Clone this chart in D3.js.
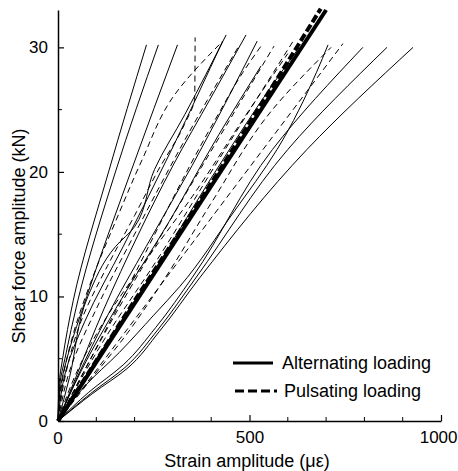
<!doctype html>
<html>
  <head>
    <meta charset="utf-8" />
    <title>Shear force vs strain amplitude</title>
    <script src="https://cdn.jsdelivr.net/npm/d3@7/dist/d3.min.js"></script>
    <style>
      body{margin:0;padding:0;background:#fff;}
      text{font-family:"Liberation Sans",Arial,sans-serif;fill:#000;}
    </style>
  </head>
  <body>
<script>

  // tick values
  var xTicksMajor = [0, 500, 1000];
  var xTicksMinor = [100, 200, 300, 400, 600, 700, 800, 900];
  var yTicksMajor = [0, 10, 20, 30];
  var yTicksMinor = [5, 15, 25];

  // curves: [strain (µε), shear force (kN)]
  var thickAlternating = [[0,0],[700,33]];
  var thickPulsating   = [[0,0],[180,8.7],[400,19.1],[686,33.1]];

  var alternatingCurves = [
    [[0,0],[3,3],[12,5],[40,9.7],[132,20],[231,30.2]],
    [[0,0],[5,3],[18,5],[52,9.7],[150,20],[262,30.2]],
    [[0,0],[8,3],[25,5.2],[75,10],[190,20],[312,30.2]],
    [[0,0],[30,3.5],[78,10],[150,14],[200,15.6],[252,20.2],[331,24.6],[439,31]],
    [[0,0],[20,4],[70,8],[170,14],[300,22],[430,30.5]],
    [[0,0],[40,3],[120,9],[210,15],[300,20.5],[400,26],[491,31]],
    [[0,0],[50,3.5],[130,8.5],[230,14],[350,20.5],[520,30.5]],
    [[0,0],[60,4],[160,9.5],[290,16],[420,23],[530,28.5]],
    [[0,0],[70,2.8],[160,5.5],[250,8.5],[318,10.8],[457,16.7],[572,21.8],[675,28],[705,30.2]],
    [[0,0],[100,5],[250,12],[400,19.5],[560,27],[630,30]],
    [[0,0],[80,2.3],[170,4.5],[255,7.5],[350,11.5],[560,21.8],[796,30]],
    [[0,0],[85,2.2],[175,4.3],[260,7.3],[360,11.5],[600,21.8],[859,30]],
    [[0,0],[90,2.2],[180,4.2],[265,7.2],[370,11.5],[650,21.8],[927,30]]
  ];

  var pulsatingCurves = [
    [[0,0],[15,3],[60,8],[130,12.5],[200,16.5],[261,20.1],[330,23.8],[357,26],[358,30.8]],
    [[0,0],[170,10],[405,23.9],[483,28],[530,30.1]],
    [[0,0],[130,7.5],[300,16.5],[564,30.1]],
    [[0,0],[744,30.3]],
    [[0,0],[90,3.5],[180,7],[280,11.5],[400,17.5],[560,25],[713,30]],
    [[0,0],[10,3],[40,7],[90,11.5],[150,16],[220,21],[300,26],[430,30.5]],
    [[0,0],[30,4],[100,9],[200,15],[330,22.5],[470,30]],
    [[0,0],[120,6.5],[260,13],[420,21],[614,30.5]],
    [[0,0],[50,4],[120,8],[220,12.5],[350,18],[500,25],[600,29.5]]
  ];

  var legendLabels = ["Alternating loading", "Pulsating loading"];

  var width = 458, height = 471;
  var svg = d3.select("body").append("svg").attr("width", width).attr("height", height);

  var x = d3.scaleLinear().domain([0, 1000]).range([58, 441]);
  var y = d3.scaleLinear().domain([0, 33]).range([421, 10]);

  var line = d3.line().curve(d3.curveMonotoneY)
    .x(function(d){ return x(d[0]); }).y(function(d){ return y(d[1]); });

  // thin curves
  svg.append("g").selectAll("path").data(alternatingCurves).enter().append("path")
    .attr("d", line).attr("fill", "none").attr("stroke", "#000").attr("stroke-width", 1);

  svg.append("g").selectAll("path").data(pulsatingCurves).enter().append("path")
    .attr("d", line).attr("fill", "none").attr("stroke", "#000").attr("stroke-width", 1)
    .attr("stroke-dasharray", "6,4");

  // thick curves
  svg.append("path").attr("d", line(thickPulsating)).attr("fill", "none")
    .attr("stroke", "#000").attr("stroke-width", 4).attr("stroke-dasharray", "8,3");
  svg.append("path").attr("d", line(thickAlternating)).attr("fill", "none")
    .attr("stroke", "#000").attr("stroke-width", 4);

  // axes
  var xAxis = d3.axisBottom(x).tickValues(xTicksMajor).tickFormat(d3.format("d"))
    .tickSizeInner(-6).tickSizeOuter(0).tickPadding(10);
  var yAxis = d3.axisLeft(y).tickValues(yTicksMajor).tickFormat(d3.format("d"))
    .tickSizeInner(-6).tickSizeOuter(0).tickPadding(10);

  var gx = svg.append("g").attr("transform", "translate(0," + y(0) + ")").call(xAxis);
  var gy = svg.append("g").attr("transform", "translate(" + x(0) + ",0)").call(yAxis);

  gx.selectAll(".tick").filter(function(d){ return d == 0; }).select("text").remove();
  // the 1000 label is pushed against the right edge as in the original
  gx.selectAll(".tick").filter(function(d){ return d == 1000; }).select("text")
    .attr("text-anchor", "end").attr("x", 16);

  gx.selectAll(".minor").data(xTicksMinor).enter().append("line").attr("class", "minor")
    .attr("x1", function(d){ return x(d); }).attr("x2", function(d){ return x(d); })
    .attr("y1", 0).attr("y2", -4).attr("stroke", "#000");
  gy.selectAll(".minor").data(yTicksMinor).enter().append("line").attr("class", "minor")
    .attr("y1", function(d){ return y(d); }).attr("y2", function(d){ return y(d); })
    .attr("x1", 0).attr("x2", 4).attr("stroke", "#000");

  svg.selectAll(".domain").attr("stroke-width", 1.5);
  svg.selectAll(".tick line").attr("stroke-width", 1.2);
  svg.selectAll(".tick text").attr("font-size", 17).attr("font-family", "Liberation Sans, Arial, sans-serif");
  gx.selectAll(".tick text").attr("dy", "0.71em");

  // x "0" label sits under the origin
  svg.append("text").attr("x", x(0)).attr("y", 444).attr("text-anchor", "middle")
    .attr("font-size", 17).text("0");

  // axis titles
  svg.append("text").attr("x", 247).attr("y", 467).attr("text-anchor", "middle")
    .attr("font-size", 18).text("Strain amplitude (\u03bc\u03b5)");
  svg.append("text").attr("transform", "translate(25,236) rotate(-90)").attr("text-anchor", "middle")
    .attr("font-size", 18).text("Shear force amplitude (kN)");

  // legend
  var legend = svg.append("g");
  legend.append("line").attr("x1", 233).attr("x2", 273).attr("y1", 363).attr("y2", 363)
    .attr("stroke", "#000").attr("stroke-width", 3);
  legend.append("line").attr("x1", 235).attr("x2", 277).attr("y1", 391).attr("y2", 391)
    .attr("stroke", "#000").attr("stroke-width", 3).attr("stroke-dasharray", "9,4");
  legend.selectAll("text").data(legendLabels).enter().append("text")
    .attr("x", function(d,i){ return i == 0 ? 282 : 284; })
    .attr("y", function(d,i){ return 369 + i*28; })
    .attr("font-size", 18).text(function(d){ return d; });

</script>
  </body>
</html>
